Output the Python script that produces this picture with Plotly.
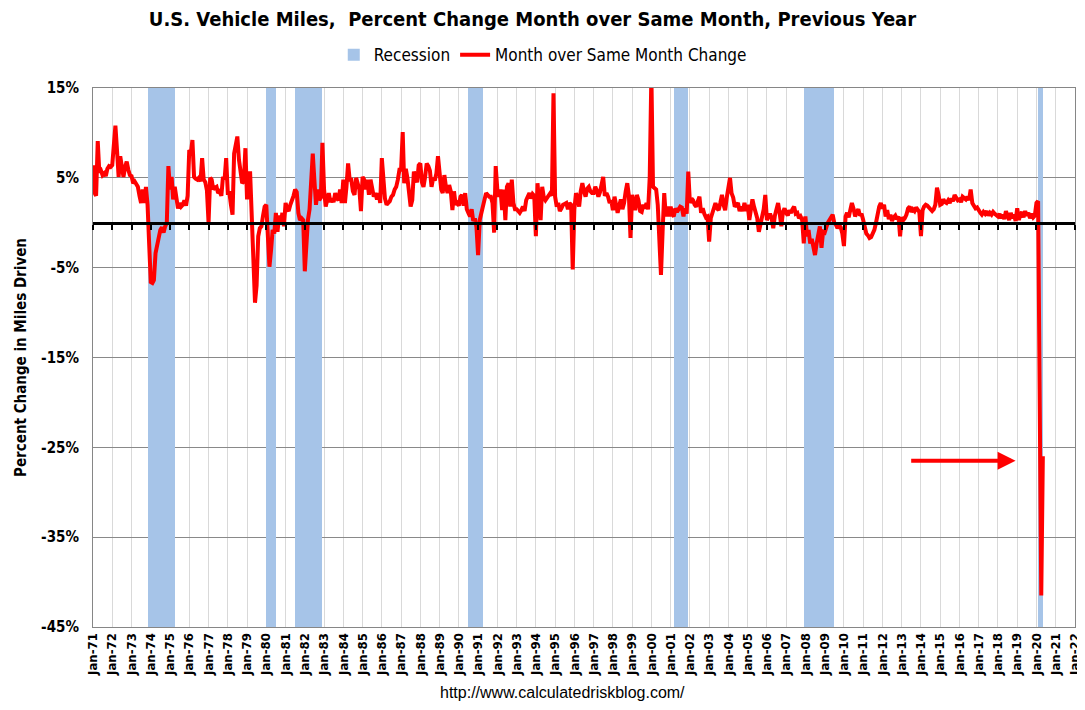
import pandas as pd
import plotly.graph_objects as go

# ---------------- data ----------------
start_month = "1971-01-01"
yoy_1970s = [
    6.4, 3.3, 3.0, 9.1, 5.6, 5.8, 5.3, 5.5, 5.2, 6.0, 6.3, 6.2,      # 1971
    6.4, 9.2, 10.8, 8.0, 5.1, 7.4, 6.5, 5.1, 6.2, 6.8, 5.9, 5.3,     # 1972
    5.2, 4.4, 4.6, 4.2, 4.0, 3.0, 2.2, 3.7, 2.2, 4.0, 2.0, -2.3,     # 1973
    -6.6, -6.7, -6.4, -3.4, -2.5, -1.5, -0.8, -0.5, -1.1, -0.4, 0.0, 6.3,  # 1974
    3.7, 5.1, 2.6, 4.0, 3.0, 1.6, 2.2, 1.8, 2.0, 2.5, 1.9, 3.0,      # 1975
    8.1, 7.8, 9.2, 5.1, 4.9, 4.8, 5.0, 4.6, 7.2, 4.8, 4.5, 3.6,      # 1976
    0.0, 5.0, 4.8, 3.7, 3.9, 4.0, 3.3, 3.5, 3.0, 5.1, 4.8, 7.2,      # 1977
    3.3, 3.3, 2.0, 0.9, 7.7, 8.5, 9.6, 7.0, 5.9, 4.4, 4.6, 8.3,      # 1978
    2.6, 5.5, 5.5, 0.3, -3.0, -8.9, -7.0, -1.5, -0.6, -0.4, 0.8, 1.8,  # 1979
]
yoy_1980s = [
    2.0, -1.0, -4.9, -3.0, -0.8, -1.2, 1.1, -1.0, 0.8, -0.2, 1.1, -0.4,  # 1980
    2.2, 1.5, 1.3, 2.0, 2.4, 3.0, 3.7, 3.4, 1.1, 0.3, 0.5, 0.3,      # 1981
    -5.4, -1.5, 0.3, 1.5, 4.8, 7.7, 4.8, 2.0, 3.7, 2.5, 2.8, 8.9,    # 1982
    3.7, 1.8, 2.5, 3.3, 2.3, 2.7, 2.3, 3.3, 2.7, 2.5, 3.7, 2.2,      # 1983
    4.8, 2.2, 4.0, 6.6, 4.8, 4.8, 3.5, 3.1, 5.0, 4.4, 3.7, 1.3,      # 1984
    5.1, 4.8, 3.7, 4.8, 3.1, 4.8, 3.7, 2.9, 3.3, 2.6, 3.3, 2.2,      # 1985
    7.2, 3.7, 2.7, 2.0, 2.2, 2.4, 2.9, 3.1, 3.7, 4.0, 4.8, 5.9,      # 1986
    5.9, 10.1, 4.4, 6.0, 5.0, 3.5, 1.8, 2.5, 5.7, 5.0, 4.5, 6.4,     # 1987
    6.6, 4.5, 4.0, 5.1, 6.6, 6.3, 5.8, 4.0, 5.0, 4.7, 5.5, 7.4,      # 1988
    4.8, 3.7, 3.3, 5.3, 4.0, 3.3, 4.2, 3.5, 1.4, 3.5, 2.0, 2.2,      # 1989
]
yoy_1990s = [
    1.9, 2.9, 3.1, 1.9, 3.3, 1.5, 1.1, 0.7, 1.5, 0.2, 0.5, -0.5,     # 1990
    -3.6, 0.3, 1.0, 1.8, 2.2, 3.3, 3.1, 2.9, 2.9, 2.2, -1.1, 6.3,    # 1991
    3.7, 2.9, 3.7, 1.4, 3.7, 0.3, 4.0, 4.4, 1.8, 4.8, 2.2, 1.5,      # 1992
    1.5, 1.2, 1.1, 1.4, 1.8, 1.3, 2.5, 2.9, 3.3, 2.7, 3.2, 3.0,      # 1993
    -1.5, 4.4, 2.5, 0.3, 4.0, 2.8, 2.5, 2.8, 2.9, 3.3, 3.0, 14.4,    # 1994
    2.9, 1.8, 2.2, 1.3, 1.6, 2.0, 2.1, 2.2, 1.5, 2.2, 2.0, -5.2,     # 1995
    1.5, 3.3, 2.8, 1.8, 3.5, 4.4, 3.5, 2.9, 3.8, 4.0, 3.5, 3.3,      # 1996
    3.3, 4.0, 3.6, 2.9, 3.4, 4.2, 5.1, 3.0, 3.3, 2.9, 2.2, 2.5,      # 1997
    1.4, 2.9, 2.0, 1.1, 1.9, 2.6, 1.5, 2.2, 3.5, 4.4, 3.0, -1.7,     # 1998
    3.1, 2.0, 1.4, 3.1, 2.5, 1.3, 1.2, 2.0, 1.6, 2.2, 1.5, 5.1,      # 1999
]
yoy_2000s = [
    16.5, 4.0, 3.9, 3.7, 2.0, -2.0, -5.8, -1.0, 3.3, 0.7, 1.8, 0.7,  # 2000
    1.8, 0.9, 0.7, 1.6, 1.2, 1.5, 1.8, 1.7, 0.7, 1.6, 1.0, 5.7,      # 2001
    2.2, 2.7, 2.5, 2.0, 1.8, 2.4, 2.9, 1.1, 1.6, 1.0, 0.6, 0.7,      # 2002
    -2.1, 0.5, 1.1, 1.7, 2.2, 1.6, 1.4, 2.2, 3.1, 2.0, 1.4, 2.8,     # 2003
    3.7, 5.0, 3.3, 2.8, 1.8, 2.0, 2.2, 1.3, 1.8, 1.3, 2.2, 1.3,      # 2004
    2.0, 0.3, 1.5, 2.6, 1.8, 1.1, 0.5, -1.0, -0.2, 0.7, 1.5, 3.1,    # 2005
    0.3, 0.7, 1.0, 0.5, -0.6, 0.8, 1.8, 2.2, 1.0, -0.4, 1.2, 1.6,    # 2006
    1.1, 0.8, 1.4, 1.1, 1.5, 1.8, 1.0, 1.1, 0.5, 0.7, 0.3, -2.3,     # 2007
    0.7, -1.5, -0.8, -2.3, -1.8, -3.0, -3.6, -2.3, -1.5, -0.4, -2.8, -1.0,  # 2008
    -1.1, -0.4, 0.0, 0.3, 0.7, 0.9, 0.0, -0.2, -0.6, -0.3, -0.5, -1.2,  # 2009
]
yoy_2010s = [
    -2.6, 0.7, 1.1, 0.6, 1.4, 2.2, 1.6, 0.7, 1.2, 1.5, 0.8, 1.0,     # 2010
    0.3, -0.8, -1.2, -1.4, -1.7, -1.6, -1.2, -0.8, 0.0, 1.0, 1.8, 2.2,  # 2011
    1.6, 2.0, 0.7, 1.4, 0.4, 0.9, 0.2, 0.6, 0.8, 0.4, 0.7, -1.5,     # 2012
    0.6, 0.3, 0.5, 0.9, 1.6, 1.8, 1.2, 1.5, 1.3, 1.7, 1.4, 1.2,      # 2013
    -1.5, 1.4, 1.8, 2.0, 1.9, 1.6, 1.5, 1.3, 1.5, 2.0, 3.9, 3.1,     # 2014
    2.0, 2.1, 2.6, 2.3, 2.2, 2.5, 2.2, 2.7, 2.4, 3.1, 2.8, 2.5,      # 2015
    2.6, 2.3, 2.9, 2.7, 2.6, 2.9, 2.5, 3.7, 2.2, 1.9, 1.6, 1.7,      # 2016
    1.3, 1.1, 0.9, 1.2, 1.0, 1.3, 0.8, 1.1, 0.9, 1.2, 1.0, 0.8,      # 2017
    0.7, 1.0, 0.5, 0.9, 0.4, 1.3, 0.8, 0.3, 1.1, 0.5, 0.9, 0.2,      # 2018
    1.6, 0.3, 0.9, 1.2, 0.6, 1.3, 0.8, 1.1, 0.5, 1.0, 0.6, 0.8,      # 2019
]
yoy_2020s = [2.2, 2.4, -18.6, -41.5, -26.0]                          # 2020

recession_start = ["1973-11-01", "1980-01-01", "1981-07-01", "1990-07-01",
                   "2001-03-01", "2007-12-01", "2020-02-01"]
recession_end = ["1975-04-01", "1980-07-01", "1982-12-01", "1991-04-01",
                 "2001-12-01", "2009-07-01", "2020-05-01"]

year_ticks = [f"{y}-01-01" for y in range(1971, 2023)]
year_labels = [f"Jan-{str(y)[2:]}" for y in range(1971, 2023)]
y_ticks = [15, 5, -5, -15, -25, -35, -45]
y_labels = ["15%", "5%", "-5%", "-15%", "-25%", "-35%", "-45%"]

arrow_tail = ("2013-06-01", -26.5)
arrow_head = ("2018-12-01", -26.5)

# ---------------- figure ----------------
values = yoy_1970s + yoy_1980s + yoy_1990s + yoy_2000s + yoy_2010s + yoy_2020s
dates = pd.date_range(start_month, periods=len(values), freq="MS")

rs = pd.to_datetime(recession_start)
re_ = pd.to_datetime(recession_end)
mids = rs + (re_ - rs) / 2
widths = [(e - s).total_seconds() * 1000 for s, e in zip(rs, re_)]

FONT = "Liberation Sans Narrow, Arial Narrow, DejaVu Sans Condensed, sans-serif"
BLUE = "#A6C4E8"

fig = go.Figure()
fig.add_trace(go.Bar(
    x=mids, y=[60] * len(mids), base=[-45] * len(mids), width=widths,
    marker=dict(color=BLUE, line=dict(width=0)), name="Recession",
    hoverinfo="skip",
))
fig.add_trace(go.Scatter(
    x=dates, y=values, mode="lines", name="Month over Same Month Change",
    line=dict(color="#FF0000", width=4), xaxis="x2",
))

fig.add_annotation(
    x=arrow_head[0], y=arrow_head[1], ax=arrow_tail[0], ay=arrow_tail[1],
    xref="x", yref="y", axref="x", ayref="y", text="", showarrow=True,
    arrowhead=2, arrowsize=0.9, arrowwidth=4, arrowcolor="#FF0000",
)
fig.add_annotation(
    x=0.478, y=-0.1224, xref="paper", yref="paper", showarrow=False,
    xanchor="center", yanchor="middle",
    text="http://www.calculatedriskblog.com/",
    font=dict(family="Liberation Sans, sans-serif", size=16, color="#000000"),
)

xrange = ["1971-01-01", "2022-01-01"]
fig.update_layout(
    width=1077, height=694,
    margin=dict(l=85, r=10, t=80, b=75),
    paper_bgcolor="white", plot_bgcolor="white",
    title=dict(
        text="<b>U.S. Vehicle Miles,  Percent Change Month over Same Month, Previous Year</b>",
        x=0.487, xanchor="center", y=0.984, yanchor="middle",
        font=dict(family=FONT, size=20, color="#000000"),
    ),
    legend=dict(
        orientation="h", x=0.458, xanchor="center", y=1.061, yanchor="middle",
        font=dict(family=FONT, size=17, color="#000000"),
        bgcolor="rgba(0,0,0,0)", itemwidth=30, traceorder="normal",
    ),
    bargap=0,
    xaxis=dict(
        range=xrange, type="date", automargin=False,
        tickvals=year_ticks, ticktext=[f"<b>{t}</b>" for t in year_labels],
        tickangle=-90, tickfont=dict(family=FONT, size=13, color="#000000"),
        showgrid=True, gridcolor="#D9D9D9", gridwidth=1,
        showline=True, linecolor="#868686", linewidth=1, mirror=True,
        ticks="", zeroline=False,
    ),
    xaxis2=dict(
        range=xrange, type="date", overlaying="x", anchor="free", position=0.75,
        tickvals=year_ticks, showticklabels=False, automargin=False,
        ticks="outside", ticklen=5, tickwidth=1.5, tickcolor="#000000",
        showline=True, linecolor="#000000", linewidth=2.5,
        showgrid=False, zeroline=False,
    ),
    yaxis=dict(
        range=[-45, 15], tickvals=y_ticks, automargin=False,
        ticktext=[f"<b>{t}</b>" for t in y_labels],
        tickfont=dict(family=FONT, size=15, color="#000000"),
        ticklabelstandoff=10,
        showgrid=True, gridcolor="#898989", gridwidth=1,
        showline=True, linecolor="#868686", linewidth=1, mirror=True,
        zeroline=False, ticks="",
        title=dict(text="<b>Percent Change in Miles Driven</b>",
                   font=dict(family=FONT, size=15, color="#000000"), standoff=10),
    ),
    showlegend=True,
)

fig.write_html("out.html")
